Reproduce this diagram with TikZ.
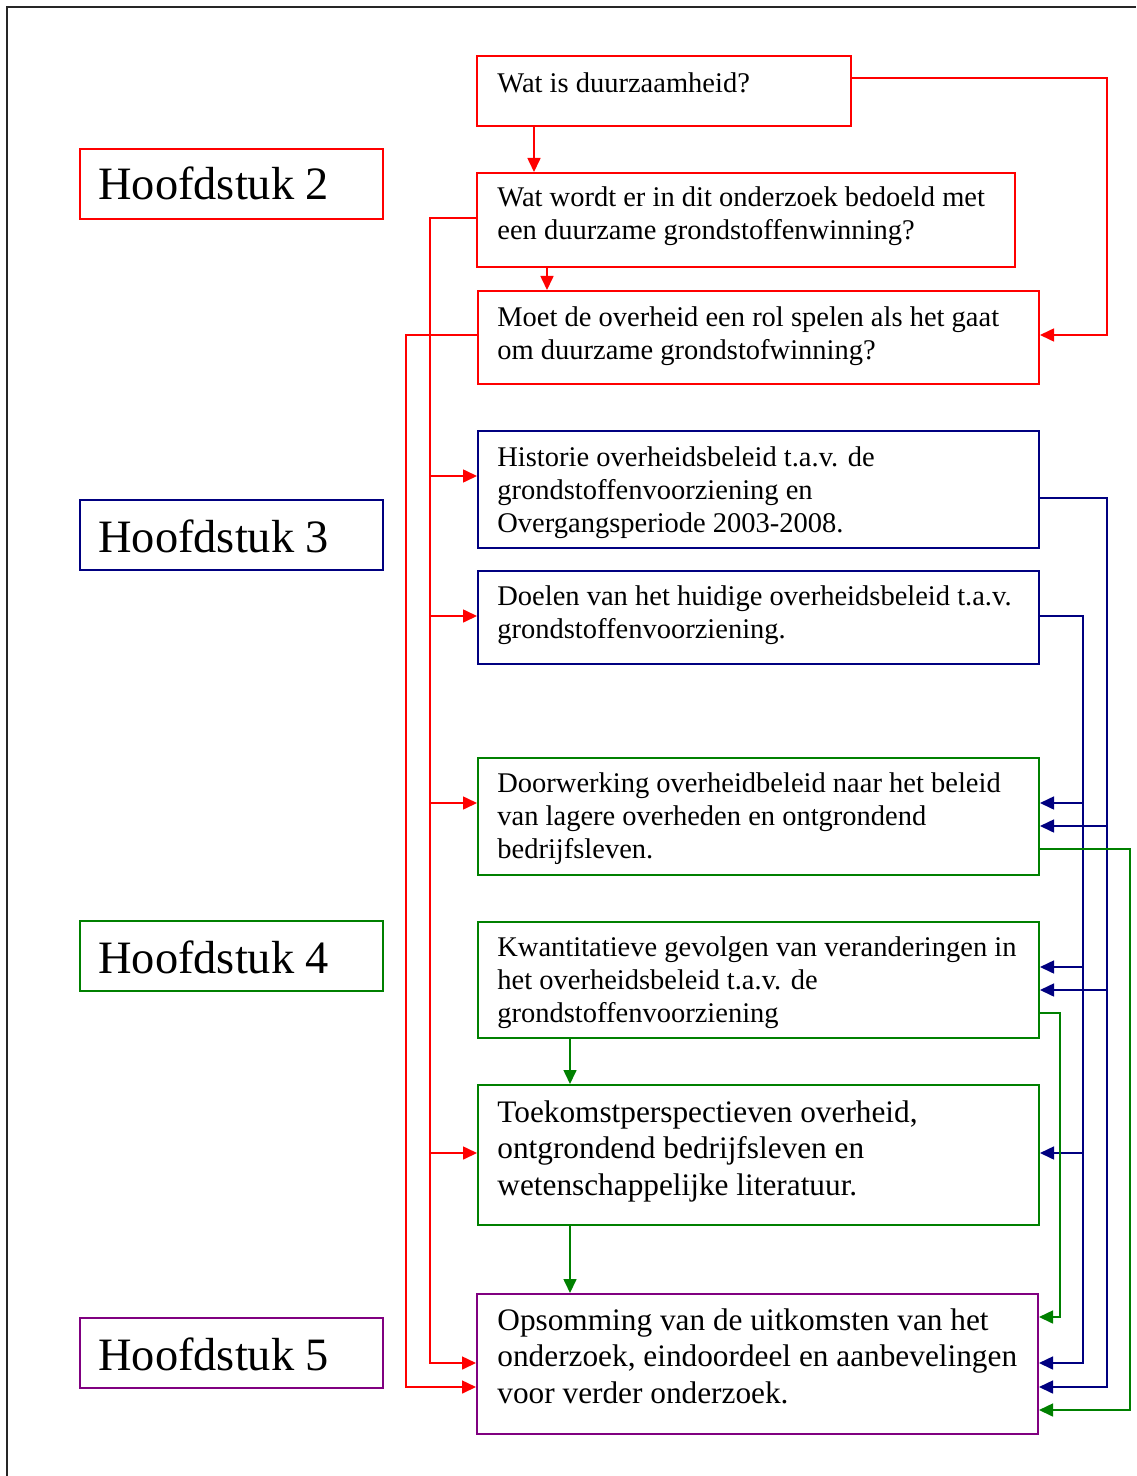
\documentclass[tikz,border=0pt]{standalone}
\usepackage{fontspec}
\setmainfont{Liberation Serif}
\usetikzlibrary{arrows.meta}
\definecolor{cred}{RGB}{255,0,0}
\definecolor{cnavy}{RGB}{0,0,128}
\definecolor{cgreen}{RGB}{0,128,0}
\definecolor{cpurple}{RGB}{128,0,128}
\begin{document}
\begin{tikzpicture}[x=0.5pt,y=-0.5pt,
  box/.style={draw,line width=1pt,rectangle,anchor=north west,inner sep=0pt},
  txt/.style={anchor=base west,inner sep=0pt,align=left,font=\fontsize{14.25}{16.5}\selectfont},
  txtl/.style={anchor=base west,inner sep=0pt,align=left,font=\fontsize{15.65}{18.25}\selectfont},
  hd/.style={anchor=base west,inner sep=0pt,font=\fontsize{23.2}{27}\selectfont},
  con/.style={line width=0.8pt},
  tip/.style={-{Triangle[length=7pt,width=6.5pt]}}
]
\useasboundingbox (0,0) rectangle (1136,1476);
\fill[white] (0,0) rectangle (1136,1476);
\draw[line width=1pt,black!85] (7,1476) -- (7,7) -- (1136,7);

% chapter boxes
\node[box,cred,minimum width=151.5pt,minimum height=35pt] (h2) at (79,148) {};
\node[hd] (h2t) at (98,200) {Hoofdstuk 2};
\node[box,cnavy,minimum width=151.5pt,minimum height=35pt] (h3) at (79,499) {};
\node[hd] (h3t) at (98,552) {Hoofdstuk 3};
\node[box,cgreen,minimum width=151.5pt,minimum height=35pt] (h4) at (79,920) {};
\node[hd] (h4t) at (98,973) {Hoofdstuk 4};
\node[box,cpurple,minimum width=151.5pt,minimum height=35pt] (h5) at (79,1317) {};
\node[hd] (h5t) at (98,1370) {Hoofdstuk 5};

% right column boxes (text nodes anchored at the baseline of their last line)
\node[box,cred,minimum width=187pt,minimum height=35pt] (A) at (476,55) {};
\node[txt] (At) at (497,93) {Wat is duurzaamheid?};
\node[box,cred,minimum width=269pt,minimum height=47pt] (B) at (476,172) {};
\node[txt] (Bt) at (497,240) {Wat wordt er in dit onderzoek bedoeld met\\een duurzame grondstoffenwinning?};
\node[box,cred,minimum width=280.5pt,minimum height=46.5pt] (C) at (477,290) {};
\node[txt] (Ct) at (497,359) {Moet de overheid een rol spelen als het gaat\\om duurzame grondstofwinning?};
\node[box,cnavy,minimum width=280.5pt,minimum height=58.5pt] (D) at (477,430) {};
\node[txt] (Dt) at (497,532) {Historie overheidsbeleid t.a.v. de\\grondstoffenvoorziening en\\Overgangsperiode 2003-2008.};
\node[box,cnavy,minimum width=280.5pt,minimum height=46.5pt] (E) at (477,570) {};
\node[txt] (Et) at (497,638) {Doelen van het huidige overheidsbeleid t.a.v.\\grondstoffenvoorziening.};
\node[box,cgreen,minimum width=280.5pt,minimum height=58.5pt] (F) at (477,757) {};
\node[txt] (Ft) at (497,858) {Doorwerking overheidbeleid naar het beleid\\van lagere overheden en ontgrondend\\bedrijfsleven.};
\node[box,cgreen,minimum width=280.5pt,minimum height=58pt] (G) at (477,921) {};
\node[txt] (Gt) at (497,1022) {Kwantitatieve gevolgen van veranderingen in\\het overheidsbeleid t.a.v. de\\grondstoffenvoorziening};
\node[box,cgreen,minimum width=280.5pt,minimum height=70pt] (H) at (477,1084) {};
\node[txtl] (Ht) at (497,1195) {Toekomstperspectieven overheid,\\ontgrondend bedrijfsleven en\\wetenschappelijke literatuur.};
\node[box,cpurple,minimum width=280.5pt,minimum height=70pt] (I) at (476,1293) {};
\node[txtl] (It) at (497,1403) {Opsomming van de uitkomsten van het\\onderzoek, eindoordeel en aanbevelingen\\voor verder onderzoek.};

% red connectors
\draw[con,cred,tip] (A.south -| 534,0) -- (B.north -| 534,0);
\draw[con,cred,tip] (B.south -| 547,0) -- (C.north -| 547,0);
\draw[con,cred,tip] (A.east |- 0,78) -| (1107,335) -- (C.east |- 0,335);
\coordinate (rb1) at (430,218);
\coordinate (rb2) at (406,335);
\draw[con,cred,tip] (B.west |- rb1) -- (rb1) |- (I.west |- 0,1363);
\draw[con,cred,tip] (rb1 |- 0,476) -- (D.west |- 0,476);
\draw[con,cred,tip] (rb1 |- 0,616) -- (E.west |- 0,616);
\draw[con,cred,tip] (rb1 |- 0,803) -- (F.west |- 0,803);
\draw[con,cred,tip] (rb1 |- 0,1153) -- (H.west |- 0,1153);
\draw[con,cred,tip] (C.west |- rb2) -- (rb2) |- (I.west |- 0,1387);

% blue connectors
\coordinate (bb1) at (1107,498);
\coordinate (bb2) at (1083,616);
\draw[con,cnavy,tip] (D.east |- bb1) -- (bb1) |- (I.east |- 0,1387);
\draw[con,cnavy,tip] (bb1 |- 0,826) -- (F.east |- 0,826);
\draw[con,cnavy,tip] (bb1 |- 0,990) -- (G.east |- 0,990);
\draw[con,cnavy,tip] (E.east |- bb2) -- (bb2) |- (I.east |- 0,1363);
\draw[con,cnavy,tip] (bb2 |- 0,803) -- (F.east |- 0,803);
\draw[con,cnavy,tip] (bb2 |- 0,967) -- (G.east |- 0,967);
\draw[con,cnavy,tip] (bb2 |- 0,1153) -- (H.east |- 0,1153);

% green connectors
\coordinate (gb1) at (1130,849);
\coordinate (gb2) at (1060,1013);
\draw[con,cgreen,tip] (F.east |- gb1) -- (gb1) |- (I.east |- 0,1410);
\draw[con,cgreen,tip] (G.east |- gb2) -- (gb2) |- (I.east |- 0,1317);
\draw[con,cgreen,tip] (G.south -| 570,0) -- (H.north -| 570,0);
\draw[con,cgreen,tip] (H.south -| 570,0) -- (I.north -| 570,0);
\end{tikzpicture}
\end{document}
